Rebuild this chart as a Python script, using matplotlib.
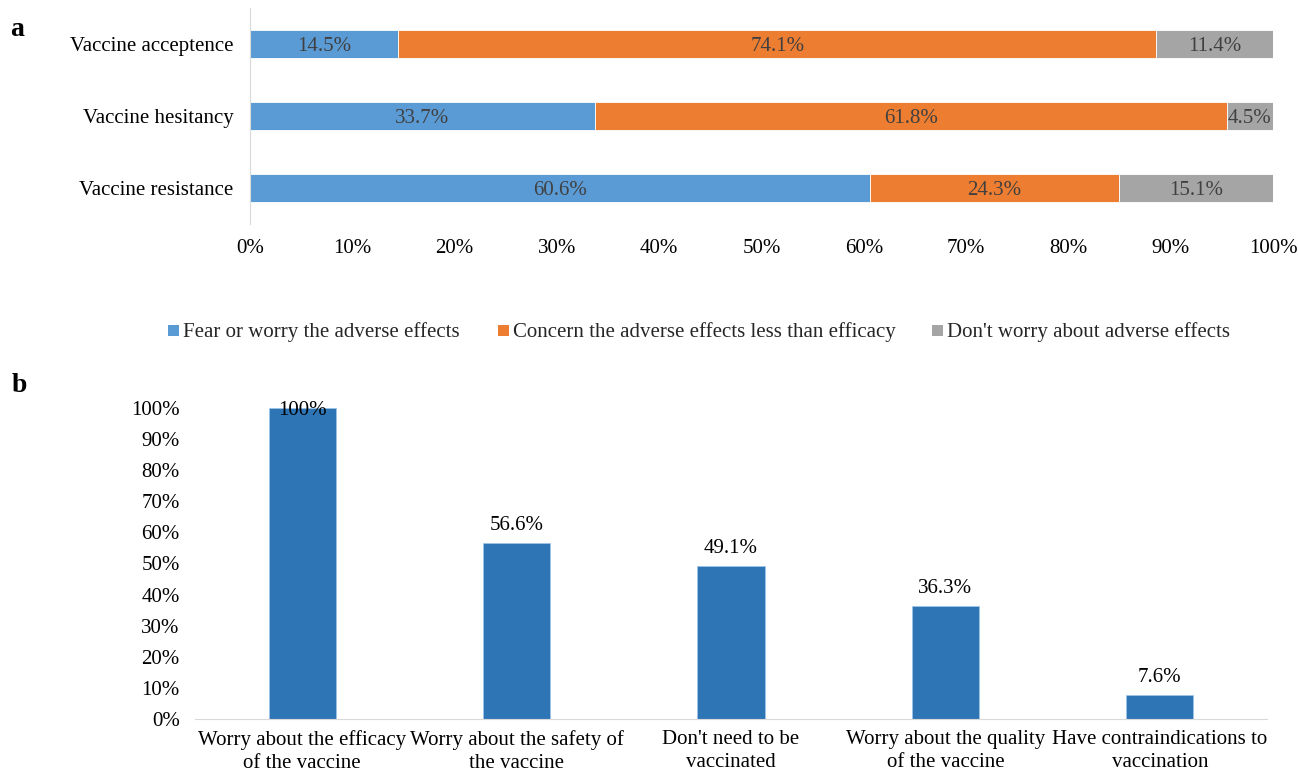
import matplotlib
matplotlib.use("Agg")
import matplotlib.pyplot as plt
from matplotlib.patches import Rectangle
import numpy as np

plt.rcParams['font.family'] = ['Liberation Serif', 'DejaVu Serif']

# Panel a data
groups = ["Vaccine resistance", "Vaccine hesitancy", "Vaccine acceptence"]
fear = [60.6, 33.7, 14.5]
concern = [24.3, 61.8, 74.1]
dont = [15.1, 4.5, 11.4]
series_names = ["Fear or worry the adverse effects",
                "Concern the adverse effects less than efficacy",
                "Don't worry about adverse effects"]
series_colors = ["#5B9BD5", "#ED7D31", "#A5A5A5"]
xticks_a = [0, 10, 20, 30, 40, 50, 60, 70, 80, 90, 100]

# Panel b data
reasons = ["Worry about the efficacy\nof the vaccine",
           "Worry about the safety of\nthe vaccine",
           "Don't need to be\nvaccinated",
           "Worry about the quality\nof the vaccine",
           "Have contraindications to\nvaccination"]
reason_vals = [100, 56.6, 49.1, 36.3, 7.6]
reason_labels = ["100%", "56.6%", "49.1%", "36.3%", "7.6%"]
yticks_b = [0, 10, 20, 30, 40, 50, 60, 70, 80, 90, 100]

W, H = 1298, 776
fig = plt.figure(figsize=(W/100, H/100), dpi=100)

# ---------- Panel a ----------
axa = fig.add_axes([250/W, 1-224/H, (1273-250)/W, 216/H])
y = np.arange(len(groups))
left = np.zeros(len(groups))
for vals, name, col in zip([fear, concern, dont], series_names, series_colors):
    vals = np.array(vals)
    axa.barh(y, vals, left=left, height=0.39, color=col,
             edgecolor="white", linewidth=0.6, label=name)
    for yi, l, v in zip(y, left, vals):
        axa.text(l + v/2, yi, f"{v:.1f}%", ha="center", va="center_baseline",
                 fontsize=15, color="#404040")
    left = left + vals
axa.set_xlim(0, 100)
axa.set_ylim(-0.5, 2.5)
axa.set_yticks(y)
axa.set_yticklabels(groups, fontsize=15)
axa.set_xticks(xticks_a)
axa.set_xticklabels([f"{t}%" for t in xticks_a], fontsize=15)
axa.tick_params(axis="both", length=0)
axa.tick_params(axis="y", pad=12)
axa.tick_params(axis="x", pad=11)
for s in ["top", "right", "bottom"]:
    axa.spines[s].set_visible(False)
axa.spines["left"].set_color("#D9D9D9")

# Legend (manual placement to match the reference spacing)
leg_x = [168, 498, 932]
leg_y = 330
for lx, name, col in zip(leg_x, series_names, series_colors):
    fig.patches.append(Rectangle((lx/W, 1-(leg_y+5.5)/H), 11/W, 11/H,
                                 transform=fig.transFigure, facecolor=col,
                                 edgecolor="none"))
    fig.text((lx+15)/W, 1-leg_y/H, name, fontsize=15, va="center_baseline",
             ha="left", color="#262626")

# ---------- Panel b ----------
axb = fig.add_axes([195/W, 1-719/H, (1267-195)/W, (719-408)/H])
x = np.arange(len(reasons))
axb.bar(x, reason_vals, width=0.313, color="#2E75B6",
        edgecolor="#9DC3E6", linewidth=0.6)
for xi, v, lab in zip(x, reason_vals, reason_labels):
    if v >= 100:
        axb.text(xi, v, lab, ha="center", va="center_baseline", fontsize=15,
                 color="black", clip_on=False)
    else:
        axb.annotate(lab, (xi, v), xytext=(0, 6), textcoords="offset points",
                     ha="center", va="bottom", fontsize=15, color="black")
axb.set_xlim(-0.5, 4.5)
axb.set_ylim(0, 100)
axb.set_yticks(yticks_b)
axb.set_yticklabels([f"{t}%" for t in yticks_b], fontsize=15)
axb.set_xticks(x)
axb.set_xticklabels(reasons, fontsize=15, linespacing=1.3)
axb.tick_params(axis="both", length=0)
axb.tick_params(axis="y", pad=11)
axb.tick_params(axis="x", pad=8)
for s in ["top", "right", "left"]:
    axb.spines[s].set_visible(False)
axb.spines["bottom"].set_color("#D9D9D9")

fig.text(10/W, 1-29/H, "a", fontsize=20, fontweight="bold", va="center")
fig.text(12/W, 1-386/H, "b", fontsize=20, fontweight="bold", va="center")

fig.savefig("out.png", dpi=100)
